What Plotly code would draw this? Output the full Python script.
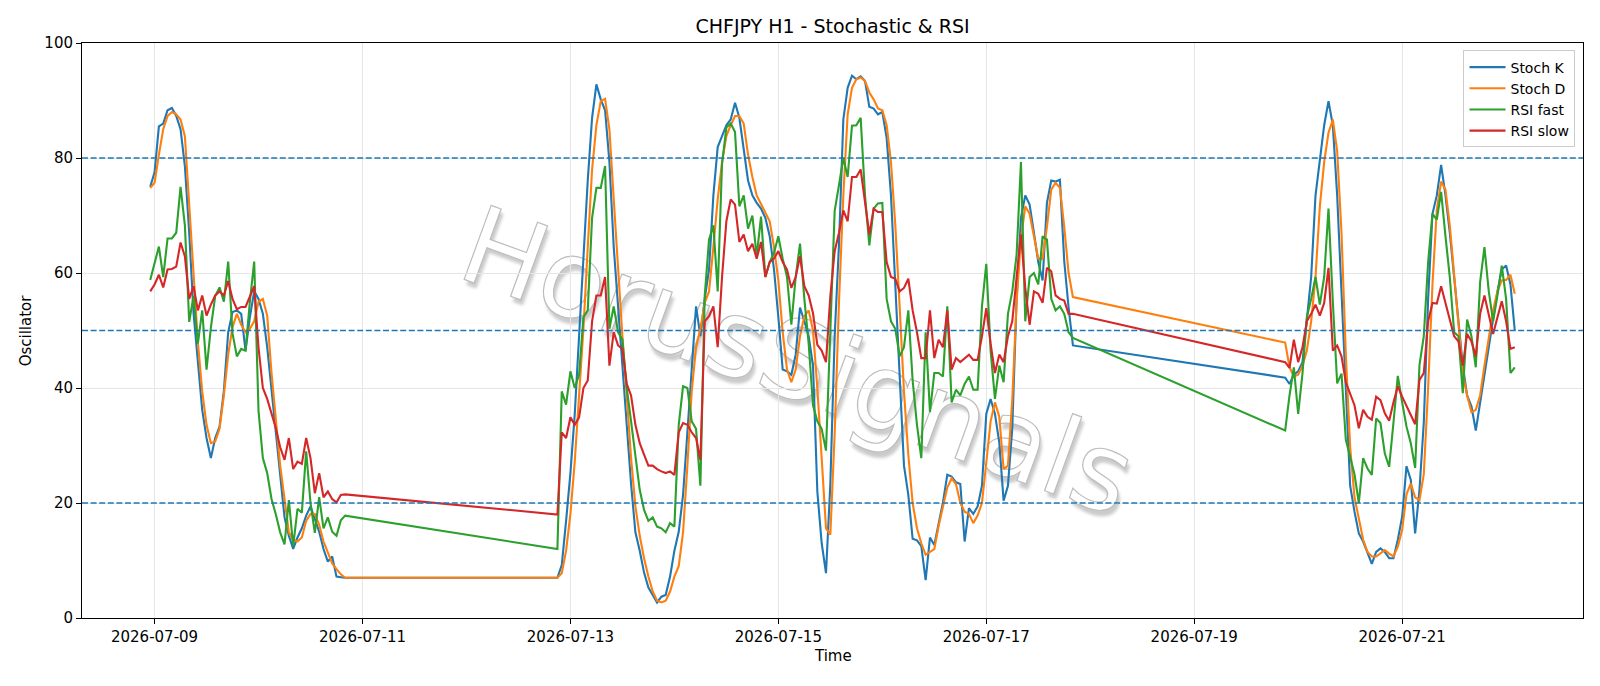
import base64
import pandas as pd
import plotly.graph_objects as go

TITLE = "CHFJPY H1 - Stochastic & RSI"

# hourly bars, three trading blocks (weekend / missing hours in between)
SEGMENTS = [("2026-07-08 23:00", "2026-07-10 20:00"),
            ("2026-07-12 21:00", "2026-07-17 20:00"),
            ("2026-07-19 21:00", "2026-07-22 02:00")]

STOCH_K = [
    # block 1
    75, 77.5, 85.5, 86, 88.3, 88.7, 87.3, 85, 78.6, 67, 53, 44, 36.2, 31.3, 27.8, 31.3,
    33.3, 39.5, 49.7, 53.2, 53.5, 52.9, 46.5, 52.3, 56.8, 55.5, 52.9, 47.1, 39.4, 32.3,
    24.6, 17.5, 14.3, 12, 14, 15.6, 17.8, 19.4, 17.2, 15, 12, 9.8, 10.7, 7.2, 7.1, 7.0,
    # block 2
    7, 9.2, 16.9, 25.2, 35.5, 49, 64.5, 76.1, 87, 92.8,
    90.2, 88.3, 79.3, 64.5, 54.2, 43.9, 33.6, 23.3, 14.9, 11.7,
    7.9, 5.3, 4, 2.7, 3.7, 4, 7.2, 11.7, 15, 21.4,
    32.3, 43.9, 54.2, 49, 55.5, 60.6, 73.5, 81.9, 83.8, 85.7,
    86.7, 89.6, 87, 81.9, 76.1, 73.5, 72.2, 71.2, 69.6, 66.4,
    60.6, 52.3, 43.2, 42.9, 42.3, 45.8, 54, 51.6, 49, 43.9,
    22, 13, 7.8, 23.3, 49, 65, 86.7, 92.2, 94.3, 93.7,
    94.2, 93.4, 88.9, 88.6, 87.6, 88, 83.5, 73.5, 58, 42,
    26.5, 21.4, 13.8, 13.5, 12.5, 6.6, 14, 12.7, 16.2, 20.1,
    24.9, 24.6, 23.6, 23.3, 13.3, 19.1, 18.1, 19.4, 23, 35.5,
    38.1, 35.5, 30.5, 20.4, 23, 33, 55.5, 69.6, 73.5, 71.9,
    67, 61.9, 58.7, 72.2, 76.1, 75.9, 76.2, 62, 54, 47.4,
    # block 3
    41.8, 40.7, 42.3, 42.9, 44.5, 51.6, 59.3, 73.5, 80, 85.7,
    89.9, 85.7, 73.5, 56.8, 41, 23, 18.5, 14.7, 13.3, 11.5,
    9.4, 11.5, 12.1, 11.5, 10.4, 10.4, 13.6, 17.6, 26.4, 24,
    14.7, 22.3, 34, 55.5, 70.3, 73.5, 78.8, 73.5, 67, 59.3,
    51.6, 43.9, 38.7, 36.8, 32.6, 37.5, 42.6, 47.1, 52.3, 56.8,
    60.6, 61.3, 58, 50,
]

STOCH_D = [
    # block 1
    74.8, 75.7, 80.6, 85, 87.3, 88, 87.6, 86.7, 83.8, 72, 60, 48, 39.4, 33.6, 30.4, 30.7,
    32.9, 38.7, 45.8, 50.6, 52.9, 51, 49.7, 50.3, 51.6, 55, 55.5, 52.6, 42.6, 34.2,
    26.5, 20.7, 14.9, 13.6, 13.3, 14, 16.9, 18.1, 18.1, 16.2, 13.3, 11.4, 9.5, 8.5, 7.6, 7.0,
    # block 2
    7, 7.8, 11.7, 18.1, 27.2, 38.7, 50.3, 64.5, 78, 85.7,
    89.9, 90.3, 85, 72.8, 60.6, 49, 38.7, 27.8, 19.4, 14.3,
    10.4, 7.2, 4.6, 3, 2.7, 3, 4.6, 7.2, 9, 14.9,
    26.5, 39.4, 47.1, 50.3, 54.8, 56.8, 64.5, 72.8, 79.3, 83.8,
    85.7, 87.3, 87.3, 86, 80.6, 76.7, 73.5, 71.9, 70.3, 69,
    64.5, 58.7, 49.7, 43.2, 41, 43.2, 49, 52.5, 53.5, 50,
    40, 27, 15.6, 14.5, 32, 55, 73.5, 87.6, 92.2, 93.7,
    94, 93.4, 91.4, 90.2, 88.6, 88.3, 85.7, 79.3, 68.3, 54.2,
    39.4, 28.4, 20, 15.6, 13, 11, 11.5, 12, 16, 19.5,
    22.7, 24.3, 23.3, 20, 18.5, 18.1, 16.5, 17.8, 20, 27,
    34.2, 37.5, 35, 25.9, 26.5, 38, 55, 66, 71.6, 70.3,
    66.4, 62.5, 62.5, 68, 74.5, 75.7, 74.8, 68, 60, 55.8,
    # block 3
    47.9, 43.6, 42, 42.3, 43.9, 46.5, 51.6, 59.3, 71.6, 79.3,
    84.4, 86.7, 81.2, 67, 45.8, 29.7, 21, 17, 13.6, 11.5,
    10.7, 10.7, 11.3, 11.8, 11.2, 10.7, 12.4, 15.3, 21.5, 23.4,
    21, 20.5, 25, 40, 58, 71, 75.9, 74.5, 68.3, 59.3,
    50.3, 42.6, 38.7, 35.8, 36.2, 38.7, 43.9, 49, 53.5, 56.8,
    58.7, 58.8, 59.7, 56.4,
]

RSI_FAST = [
    # block 1
    58.8, 61.8, 64.6, 59.3, 66, 66, 67, 75, 68.3, 51.5, 56, 47.7, 53.5, 43.2, 50.5, 56,
    57.5, 55, 62, 49.5, 45.5, 46.8, 46.5, 55, 62, 36, 27.8, 25.2, 20.7, 18,
    14.9, 12.8, 20.5, 12.5, 19, 18.3, 29, 20, 14.8, 21, 15.6, 17.5, 15, 14.3, 17, 17.8,
    # block 2
    12, 39.4, 37.1, 42.9, 40, 42.3, 52.3, 53.5, 69.6, 74.8,
    74.8, 78.6, 50.3, 54.2, 49.7, 48.4, 40, 34.2, 27.8, 22.3,
    18.8, 16.9, 17.5, 15.9, 15.6, 14.9, 16.5, 15.9, 33.6, 40.3,
    40, 34.2, 32.9, 23, 56, 65.8, 68.3, 56.8, 79, 85.3,
    86, 84.5, 71.6, 73.5, 67.7, 70, 62.9, 69.8, 59.3, 61.9,
    63.5, 66.4, 62.5, 59.3, 51, 59.3, 65.1, 55.5, 47.7, 37,
    34.2, 32.9, 29.1, 50, 70.8, 75.3, 80, 76.7, 85.6, 85.7,
    87, 73.5, 64.8, 71.2, 72.1, 72.2, 55.5, 51.6, 50.3, 45.5,
    47.1, 53.5, 41.3, 33.6, 27.8,
    49.7, 35.8, 42.6, 42.6, 42, 54.2, 37.5, 39.7, 38.7, 40.7,
    42, 39.7, 39.7, 54.2, 61.6, 46.5, 38.1, 43.9, 41, 52.9,
    56.8, 63.2, 79.3, 51.6, 59.3, 60, 58, 66.4, 65.8, 55.5,
    53.5, 54.2, 52.9, 49.7, 48.7,
    # block 3
    32.6, 38.7, 43.6, 35.5, 42.6, 52.3, 55.5, 59.3, 54.5, 59.3,
    71.2, 55, 40.8, 42.5, 31, 28, 25, 20, 27.8, 26,
    24.9, 34.7, 33.9, 28.6, 26.3, 34, 42.1, 37.5, 33.3, 30.4,
    26.1, 44, 49, 61.9, 70.3, 69.3, 74.1, 66.4, 59.3, 49.7,
    49, 39.1, 51.9, 49, 43.6, 58.4, 64.5, 56.8, 51.6, 56.1,
    61.3, 55.5, 42.6, 43.6,
]

RSI_SLOW = [
    # block 1
    56.8, 58, 59.7, 57.5, 60.6, 60.7, 61.1, 65.3, 62.9, 55.5, 57.7, 53.5, 56.1, 52.6, 54.5, 56.1,
    56.8, 56.1, 58.6, 55.5, 53.7, 54.1, 54.1, 55.8, 57.7, 47, 40, 38.1, 35.5, 33,
    29.7, 27.5, 31.3, 25.9, 27.2, 26.8, 31.3, 27.8, 21.7, 25.2, 21, 22, 20.7, 20.1, 21.4, 21.5,
    # block 2
    18, 32.3, 31.3, 34.9, 33.6, 34.9, 40, 41.3, 51.6, 56.1,
    56.1, 59.3, 43.9, 49.7, 47.4, 46.8, 40.7, 38.7, 33.6, 30.4,
    28.4, 26.5, 26.5, 25.9, 25.5, 25.2, 25.5, 24.9, 32.3, 33.9,
    33.6, 32.3, 31.3, 27.5, 51.6, 52.5, 54.2, 47.1, 59.3, 69,
    72.8, 71.9, 65.4, 66.7, 63.8, 65.1, 62.5, 65.4, 59.3, 61.9,
    62.5, 63.8, 61.9, 60.6, 57.4, 59.3, 62.9, 57.7, 56.1, 53,
    47.5, 46.5, 44.5, 56, 63.8, 67, 70.9, 69, 76.7, 76.7,
    78, 72.8, 66.7, 71.2, 70.6, 70.6, 61.9, 59.3, 59, 56.8,
    57.4, 59, 53.5, 49.7, 45.2,
    45.2, 53.5, 45.2, 48.4, 47.1, 53.5, 43.2, 45.2, 44.5, 45.2,
    45.8, 44.9, 44.9, 49, 53.9, 47.7, 42.6, 45.8, 44.5, 49,
    51.6, 59.3, 66.7, 57.4, 51, 56.8, 56.4, 54.8, 60.9, 60.3,
    56.1, 55.5, 55.2, 52.9, 52.9,
    # block 3
    44.5, 43.5, 48.4, 44.5, 47.1, 51.6, 52.9, 54.5, 52.6, 54.8,
    60.9, 46.5, 47.4, 45.5, 41, 39.1, 37, 33, 36.2, 35,
    34.5, 38.5, 37.9, 35.6, 34.3, 37.5, 40.3, 38.5, 37, 35.3,
    33.7, 41.4, 42.6, 51.6, 54.8, 54.7, 57.7, 54.8, 51.6, 49,
    48.1, 43.9, 49.4, 48.1, 45.5, 52.9, 56.1, 52.9, 49.4, 52.3,
    55.1, 51.6, 46.8, 47.1,
]

SERIES_NAMES = ["Stoch K", "Stoch D", "RSI fast", "RSI slow"]
SERIES_COLORS = ["#1f77b4", "#ff7f0e", "#2ca02c", "#d62728"]
LEVELS = [80, 50, 20]
X_TICKS = ["2026-07-09", "2026-07-11", "2026-07-13", "2026-07-15",
           "2026-07-17", "2026-07-19", "2026-07-21"]
Y_TICKS = [0, 20, 40, 60, 80, 100]
X_RANGE = ["2026-07-08 07:15", "2026-07-22 17:45"]
WATERMARK = "HorusSignals"

times = []
for start, end in SEGMENTS:
    times.extend(pd.date_range(start, end, freq="h"))

FONT = "DejaVu Sans"
fig = go.Figure()
for name, color, vals in zip(SERIES_NAMES, SERIES_COLORS,
                             [STOCH_K, STOCH_D, RSI_FAST, RSI_SLOW]):
    n = min(len(vals), len(times))
    fig.add_trace(go.Scatter(x=times[:n], y=vals[:n], mode="lines", name=name,
                             line=dict(color=color, width=2.1)))

for lv in LEVELS:
    fig.add_shape(type="line", xref="paper", x0=0, x1=1, yref="y", y0=lv, y1=lv,
                  line=dict(color="#1f77b4", width=1.4, dash="6px,2.6px"), layer="above")

# watermark drawn underneath the data
W, H = 1501, 575
cx, cy = 716, 318
svg = f'''<svg xmlns="http://www.w3.org/2000/svg" width="{W}" height="{H}" viewBox="0 0 {W} {H}">
<defs><filter id="b" x="-5%" y="-20%" width="110%" height="140%"><feGaussianBlur stdDeviation="1.6"/></filter></defs>
<g transform="rotate(20 {cx} {cy})" font-family="DejaVu Sans, sans-serif" font-size="108" text-anchor="middle">
<text x="{cx + 4}" y="{cy + 4}" dominant-baseline="central" fill="#8c8c8c" fill-opacity="0.45" filter="url(#b)">{WATERMARK}</text>
<text x="{cx}" y="{cy}" dominant-baseline="central" fill="#ffffff" stroke="#bdbdbd" stroke-width="1.2">{WATERMARK}</text>
</g></svg>'''
uri = "data:image/svg+xml;base64," + base64.b64encode(svg.encode("utf-8")).decode("ascii")
fig.add_layout_image(dict(source=uri, xref="paper", yref="paper", x=0, y=1, sizex=1, sizey=1,
                          xanchor="left", yanchor="top", sizing="stretch", layer="below"))

axis_common = dict(showline=True, linecolor="black", linewidth=1, mirror=True,
                   ticks="outside", ticklen=5, tickwidth=1, tickcolor="black",
                   showgrid=True, gridcolor="#e6e6e6", gridwidth=1, zeroline=False,
                   tickfont=dict(family=FONT, size=15, color="black"))

fig.update_xaxes(type="date", range=X_RANGE, tickvals=X_TICKS, ticktext=X_TICKS, **axis_common)
fig.update_yaxes(range=[0, 100], tickvals=Y_TICKS, ticktext=[str(v) for v in Y_TICKS], **axis_common)

fig.add_annotation(text="Time", xref="paper", yref="paper", x=0.5, y=-0.066,
                   xanchor="center", yanchor="middle", showarrow=False,
                   font=dict(family=FONT, size=15, color="black"))
fig.add_annotation(text="Oscillator", xref="paper", yref="paper", x=-0.0374, y=0.5,
                   xanchor="center", yanchor="middle", textangle=-90, showarrow=False,
                   font=dict(family=FONT, size=15, color="black"))

fig.update_layout(
    width=1600, height=686,
    margin=dict(l=82, r=17, t=43, b=68),
    paper_bgcolor="white", plot_bgcolor="white",
    font=dict(family=FONT, size=15, color="black"),
    title=dict(text=TITLE, x=0.5, xref="paper", xanchor="center",
               y=1 - 26 / 686, yref="container", yanchor="middle",
               font=dict(family=FONT, size=19, color="black")),
    legend=dict(x=0.995, y=0.987, xanchor="right", yanchor="top",
                bgcolor="rgba(255,255,255,0.85)", bordercolor="#cccccc", borderwidth=1,
                font=dict(family=FONT, size=14, color="black"), itemwidth=36,
                tracegroupgap=0),
    showlegend=True,
    hovermode=False,
)

fig.write_html("out.html")
